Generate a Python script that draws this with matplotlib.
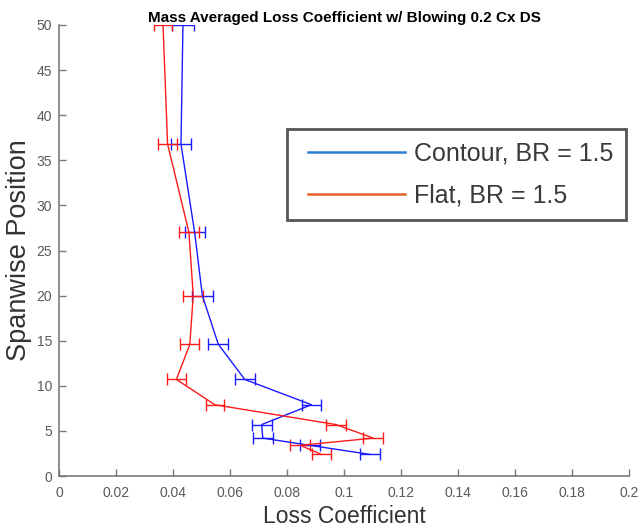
import matplotlib
matplotlib.use('Agg')
import matplotlib.pyplot as plt
from matplotlib.lines import Line2D
from matplotlib.legend_handler import HandlerLine2D

# spanwise measurement stations (same for both cases)
span = [50, 36.8, 27, 20, 14.6, 10.7, 7.9, 5.7, 4.2, 3.4, 2.4]

# contoured endwall, BR = 1.5
loss_contour = [0.0435, 0.0428, 0.0476, 0.0503, 0.0559, 0.0652, 0.0886, 0.0711, 0.0715, 0.0880, 0.1090]
err_contour = [0.0037, 0.0035, 0.0035, 0.0037, 0.0035, 0.0035, 0.0035, 0.0035, 0.0035, 0.0036, 0.0035]

# flat endwall, BR = 1.5
loss_flat = [0.0365, 0.0381, 0.0456, 0.0471, 0.0459, 0.0412, 0.0547, 0.0972, 0.1103, 0.0846, 0.0920]
err_flat = [0.0033, 0.0034, 0.0034, 0.0035, 0.0033, 0.0033, 0.0032, 0.0035, 0.0035, 0.0034, 0.0034]

xticks = [0, 0.02, 0.04, 0.06, 0.08, 0.1, 0.12, 0.14, 0.16, 0.18, 0.2]
xticklabels = ['0', '0.02', '0.04', '0.06', '0.08', '0.1', '0.12', '0.14', '0.16', '0.18', '0.2']
yticks = list(range(0, 55, 5))

plt.rcParams.update({'font.family': 'Liberation Sans'})

fig = plt.figure(figsize=(6.41, 5.32), dpi=100)
ax = fig.add_axes([59 / 641, 56 / 532, 570 / 641, 451 / 532])

ax.errorbar(loss_contour, span, xerr=err_contour, color='#1a1aff', linewidth=1.0,
            elinewidth=1.0, capsize=4, capthick=1.0)
ax.errorbar(loss_flat, span, xerr=err_flat, color='#ff1a1a', linewidth=1.0,
            elinewidth=1.0, capsize=4, capthick=1.0)

ax.set_xlim(0, 0.2)
ax.set_ylim(0, 50)
ax.set_xticks(xticks)
ax.set_xticklabels(xticklabels)
ax.set_yticks(yticks)

for side in ['top', 'right']:
    ax.spines[side].set_visible(False)
for side in ['left', 'bottom']:
    ax.spines[side].set_color('#7a7a7a')
    ax.spines[side].set_linewidth(1.2)
ax.tick_params(direction='in', length=5, width=1.0, color='#7a7a7a',
               labelcolor='#5a5a5a', labelsize=10)
ax.tick_params(axis='x', pad=7)
ax.tick_params(axis='y', pad=5)

ax.set_title('Mass Averaged Loss Coefficient w/ Blowing 0.2 Cx DS',
             fontsize=11, fontweight='bold', pad=2)
ax.set_xlabel('Loss Coefficient', fontsize=16.5, color='#333333', labelpad=4)
ax.set_ylabel('Spanwise Position', fontsize=19.5, color='#333333', labelpad=3)

# legend box spans a fixed region of the figure
handles = [Line2D([], [], color='#2a7fd0', linewidth=1.8),
           Line2D([], [], color='#e2602a', linewidth=1.8)]
leg = ax.legend(handles, ['Contour, BR = 1.5', 'Flat, BR = 1.5'],
                loc='upper left', mode='expand',
                bbox_to_anchor=(287 / 641, 1 - 222 / 532, 339 / 641, 93 / 532),
                bbox_transform=fig.transFigure, fontsize=18, frameon=True,
                fancybox=False, handlelength=4.2, handletextpad=0.4,
                borderpad=0.5, labelspacing=0.72, borderaxespad=0,
                handler_map={Line2D: HandlerLine2D(xpad=0.35)})
leg.get_frame().set_edgecolor('#2a2a2a')
leg.get_frame().set_linewidth(2.0)
for t in leg.get_texts():
    t.set_color('#3a3a3a')

fig.savefig('out.png', dpi=100)
